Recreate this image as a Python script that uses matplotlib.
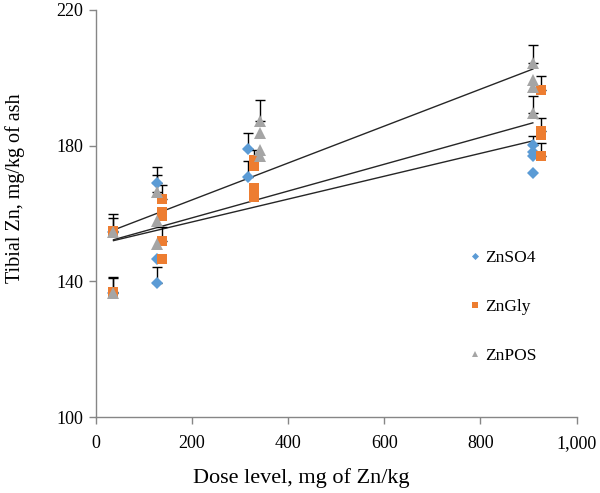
import numpy as np
import matplotlib.pyplot as plt

plt.rcParams['font.family'] = ['Liberation Serif', 'DejaVu Serif']

# ---- data ----
# ZnSO4
so4_x = [37, 37, 127, 127, 127, 317, 317, 909, 909, 909, 909]
so4_y = [154.5, 136.5, 169.0, 146.5, 139.6, 179.0, 170.8, 180.3, 178.0, 176.9, 171.8]
so4_err = [0, 0, 4.8, 0, 4.5, 4.8, 4.8, 2.4, 0, 0, 0]

# ZnGly
gly_x = [37, 37, 137, 137, 137, 137, 137, 329, 329, 329, 329, 927, 927, 927, 927]
gly_y = [154.7, 136.8, 164.4, 160.3, 159.2, 151.9, 146.7,
         175.7, 173.9, 167.6, 164.9, 196.5, 184.2, 183.2, 176.9]
gly_err = [5.0, 4.5, 4.0, 0, 0, 4.1, 0, 3.1, 0, 0, 0, 3.9, 3.9, 0, 3.9]

# ZnPOS
pos_x = [37, 37, 127, 127, 127, 342, 342, 342, 342, 909, 909, 909, 909]
pos_y = [154.5, 136.5, 166.2, 157.7, 150.9, 187.2, 183.7, 178.8, 176.9,
         204.3, 199.4, 197.3, 189.6]
pos_err = [4.2, 4.5, 5.0, 0, 0, 6.3, 0, 0, 0, 5.4, 0, 0, 4.9]

# linear trendlines (intercept, slope), drawn over the dose range
trend_x = [37, 909]
trend_pos = (153.1, 0.0544)
trend_gly = (150.8, 0.0395)
trend_so4 = (150.75, 0.0337)

series = [
    ('ZnSO4', so4_x, so4_y, so4_err, '#5B9BD5', 'D', 6.0),
    ('ZnGly', gly_x, gly_y, gly_err, '#ED7D31', 's', 7.0),
    ('ZnPOS', pos_x, pos_y, pos_err, '#A5A5A5', '^', 8.0),
]

fig = plt.figure(figsize=(6.0, 4.93), dpi=100)
ax = fig.add_axes([0.1595, 0.154, 0.8015, 0.826])

# trendlines
tx = np.array(trend_x)
for b0, b1 in [trend_pos, trend_gly, trend_so4]:
    ax.plot(tx, b0 + b1 * tx, color='#262626', lw=1.0, zorder=2)

for name, xs, ys, errs, col, mk, ms in series:
    xs = np.array(xs)
    ys = np.array(ys)
    errs = np.array(errs)
    has = errs > 0
    ax.errorbar(xs[has], ys[has], yerr=[np.zeros(has.sum()), errs[has]],
                fmt='none', ecolor='black', elinewidth=1.0, capsize=3.5,
                capthick=1.0, zorder=3)
    ax.plot(xs, ys, linestyle='none', marker=mk, markersize=ms, color=col,
            markeredgewidth=0, label=name, zorder=4)

ax.set_xlim(0, 1000)
ax.set_ylim(100, 220)
ax.set_xticks([0, 200, 400, 600, 800, 1000])
ax.set_xticklabels(['0', '200', '400', '600', '800', '1,000'])
ax.set_yticks([100, 140, 180, 220])

for s in ['top', 'right']:
    ax.spines[s].set_visible(False)
for s in ['left', 'bottom']:
    ax.spines[s].set_color('#868686')
    ax.spines[s].set_linewidth(1.0)
ax.tick_params(axis='both', colors='#868686', labelcolor='black',
               labelsize=13, length=5, width=1.0, direction='out')
ax.tick_params(axis='x', pad=8)
ax.tick_params(axis='y', pad=4)

ax.set_xlabel('Dose level, mg of Zn/kg', fontsize=16)
ax.set_ylabel('Tibial Zn, mg/kg of ash', fontsize=14.5)
ax.xaxis.set_label_coords(0.427, -0.125)
ax.yaxis.set_label_coords(-0.147, 0.563)

leg = ax.legend(loc='upper left', bbox_to_anchor=(0.745, 0.45), frameon=False,
                fontsize=12.5, labelspacing=1.9, handlelength=0.6,
                handletextpad=0.3, markerscale=0.6)

fig.savefig('out.png', dpi=100)
